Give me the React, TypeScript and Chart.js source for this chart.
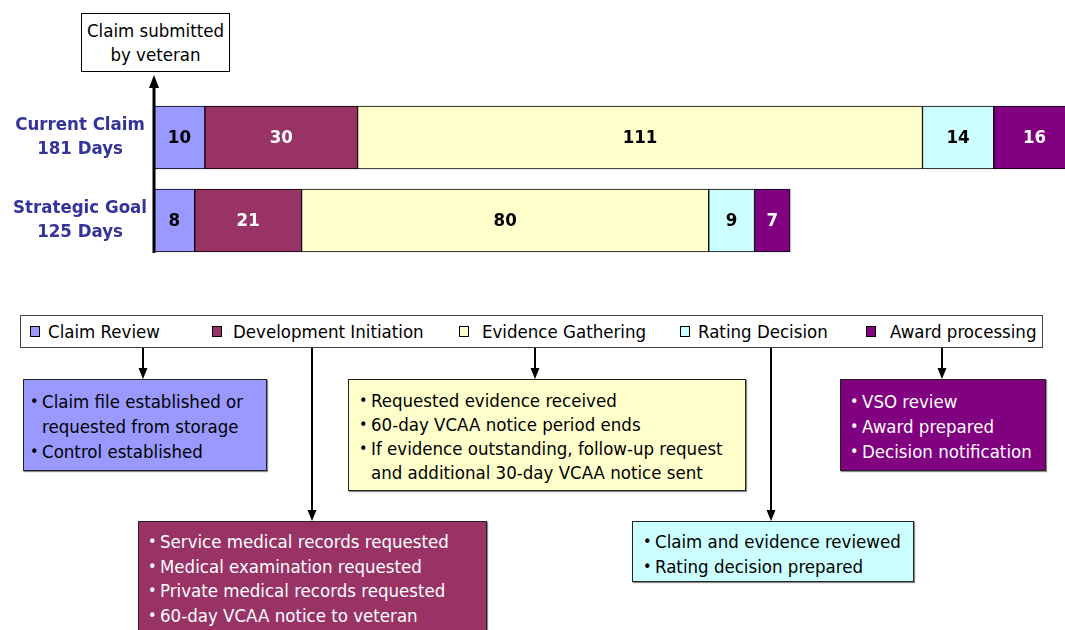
import React, { useEffect, useRef } from "react";
import { Chart, registerables } from "chart.js";

Chart.register(...registerables);

const FONT = "'DejaVu Sans Condensed', 'DejaVu Sans', sans-serif";
const FS = 18.5;

// ---- data ----
const categories = ["Current Claim", "Strategic Goal"];
const dayLabels = ["181 Days", "125 Days"];
const phases = ["Claim Review", "Development Initiation", "Evidence Gathering", "Rating Decision", "Award processing"];
const currentDays = [10, 30, 111, 14, 16];
const goalDays = [8, 21, 80, 9, 7];
const phaseColors = ["#9999FF", "#993366", "#FFFFCC", "#CCFFFF", "#800080"];
const valueTextColors = ["#000000", "#FFFFFF", "#000000", "#000000", "#FFFFFF"];
const startNote = ["Claim submitted", "by veteran"];
const claimReviewNotes = ["Claim file established or requested from storage", "Control established"];
const developmentNotes = ["Service medical records requested", "Medical examination requested", "Private medical records requested", "60-day VCAA notice to veteran"];
const evidenceNotes = ["Requested evidence received", "60-day VCAA notice period ends", "If evidence outstanding, follow-up request and additional 30-day VCAA notice sent"];
const ratingNotes = ["Claim and evidence reviewed", "Rating decision prepared"];
const awardNotes = ["VSO review", "Award prepared", "Decision notification"];

// ---- layout (not data) ----
const legendLayout = [
  { sq: 30, tx: 48 },
  { sq: 212, tx: 233 },
  { sq: 459, tx: 482 },
  { sq: 680, tx: 698 },
  { sq: 866, tx: 890 },
];

const valueLabels = {
  id: "valueLabels",
  afterDatasetsDraw(chart: any) {
    const ctx = chart.ctx;
    ctx.save();
    ctx.font = `bold ${FS}px ${FONT}`;
    ctx.textAlign = "center";
    ctx.textBaseline = "middle";
    chart.data.datasets.forEach((ds: any, i: number) => {
      const meta = chart.getDatasetMeta(i);
      meta.data.forEach((el: any, j: number) => {
        const p = el.getCenterPoint();
        ctx.fillStyle = valueTextColors[i];
        ctx.fillText(String(ds.data[j]), p.x, p.y + 1);
      });
    });
    ctx.restore();
  },
};

function BarChart() {
  const ref = useRef<HTMLCanvasElement | null>(null);
  useEffect(() => {
    if (!ref.current) return;
    const chart = new Chart(ref.current, {
      type: "bar",
      data: {
        labels: categories.map((c, i) => [c, dayLabels[i]]),
        datasets: phases.map((p, i) => ({
          label: p,
          data: [currentDays[i], goalDays[i]],
          backgroundColor: phaseColors[i],
          borderColor: "#000000",
          borderWidth: 1,
          borderSkipped: false,
          barThickness: 63,
        })),
      },
      options: {
        indexAxis: "y",
        animation: false,
        responsive: false,
        devicePixelRatio: 1,
        layout: { padding: { left: 0, right: 0, top: 96, bottom: 8 } },
        plugins: { legend: { display: false }, tooltip: { enabled: false } },
        scales: {
          x: { stacked: true, display: false, min: 0, max: 179 },
          y: {
            stacked: true,
            grid: { display: false, drawTicks: false },
            border: { display: false },
            afterFit: (scale: any) => {
              scale.width = 154;
              scale.paddingTop = 0;
              scale.paddingBottom = 0;
            },
            ticks: {
              crossAlign: "center",
              padding: 7,
              color: "#333399",
              font: { family: FONT, size: FS, weight: "bold", lineHeight: 1.3 },
            },
          },
        },
      },
      plugins: [valueLabels],
    } as any);
    return () => chart.destroy();
  }, []);
  return <canvas ref={ref} width={1065} height={270} style={{ position: "absolute", left: 0, top: 0 }} />;
}

function NoteBox(props: { left: number; top: number; width: number; height: number; bg: string; color: string; items: string[]; padTop: number; padLeft: number; lh: number }) {
  const { left, top, width, height, bg, color, items, padTop, padLeft, lh } = props;
  return (
    <div
      style={{
        position: "absolute",
        left,
        top,
        width,
        height,
        boxSizing: "border-box",
        background: bg,
        color,
        border: "1px solid #222",
        boxShadow: "1px 1px 1px rgba(0,0,0,0.45)",
        paddingTop: padTop,
        paddingLeft: padLeft,
        fontSize: FS,
        lineHeight: `${lh}px`,
        fontFamily: FONT,
      }}
    >
      {items.map((t, i) => (
        <div key={i} style={{ display: "flex" }}>
          <span style={{ width: 12, flex: "none", fontSize: 16 }}>•</span>
          <span>{t}</span>
        </div>
      ))}
    </div>
  );
}

function Arrow({ x, y1, y2, head }: { x: number; y1: number; y2: number; head: boolean }) {
  return (
    <g>
      <line x1={x} y1={y1} x2={x} y2={head ? y2 - 9 : y2} stroke="#000" strokeWidth={2} />
      {head && <polygon points={`${x - 4.5},${y2 - 11} ${x + 4.5},${y2 - 11} ${x},${y2}`} fill="#000" />}
    </g>
  );
}

export default function App() {
  return (
    <div style={{ position: "absolute", left: 0, top: 0, width: 1065, height: 630, overflow: "hidden", background: "#fff", fontFamily: FONT }}>
      <BarChart />
      {/* start note */}
      <div
        style={{
          position: "absolute",
          left: 81,
          top: 13,
          width: 149,
          height: 59,
          boxSizing: "border-box",
          border: "1px solid #000",
          background: "#fff",
          textAlign: "center",
          fontSize: FS,
          lineHeight: "24px",
          paddingTop: 5,
          fontFamily: FONT,
        }}
      >
        {startNote.map((t, i) => (
          <div key={i}>{t}</div>
        ))}
      </div>
      {/* legend */}
      <div
        style={{
          position: "absolute",
          left: 20,
          top: 315,
          width: 1023,
          height: 33,
          boxSizing: "border-box",
          border: "1px solid #444",
          background: "#fff",
        }}
      />
      {phases.map((p, i) => (
        <React.Fragment key={p}>
          <div
            style={{
              position: "absolute",
              left: legendLayout[i].sq,
              top: 326,
              width: 10,
              height: 11,
              boxSizing: "border-box",
              border: "1px solid #000",
              background: phaseColors[i],
            }}
          />
          <div style={{ position: "absolute", left: legendLayout[i].tx, top: 319, fontSize: FS, lineHeight: "26px", whiteSpace: "nowrap", fontFamily: FONT }}>{p}</div>
        </React.Fragment>
      ))}
      <NoteBox left={23} top={379} width={244} height={92} bg={phaseColors[0]} color="#000" items={claimReviewNotes} padTop={9} padLeft={6} lh={25} />
      <NoteBox left={138} top={521} width={349} height={120} bg={phaseColors[1]} color="#fff" items={developmentNotes} padTop={8} padLeft={9} lh={24.7} />
      <NoteBox left={348} top={379} width={398} height={112} bg={phaseColors[2]} color="#000" items={evidenceNotes} padTop={9} padLeft={10} lh={24} />
      <NoteBox left={632} top={521} width={282} height={61} bg={phaseColors[3]} color="#000" items={ratingNotes} padTop={7} padLeft={10} lh={25} />
      <NoteBox left={840} top={379} width={206} height={92} bg={phaseColors[4]} color="#fff" items={awardNotes} padTop={9} padLeft={9} lh={25} />
      <svg width={1065} height={630} style={{ position: "absolute", left: 0, top: 0, pointerEvents: "none" }}>
        <line x1={154} y1={86} x2={154} y2={253} stroke="#000" strokeWidth={3} />
        <polygon points="149,88 159,88 154,75" fill="#000" />
        <Arrow x={143} y1={348} y2={379} head />
        <Arrow x={312} y1={348} y2={521} head />
        <Arrow x={535} y1={348} y2={379} head />
        <Arrow x={771} y1={348} y2={521} head />
        <Arrow x={942} y1={348} y2={379} head />
      </svg>
    </div>
  );
}
